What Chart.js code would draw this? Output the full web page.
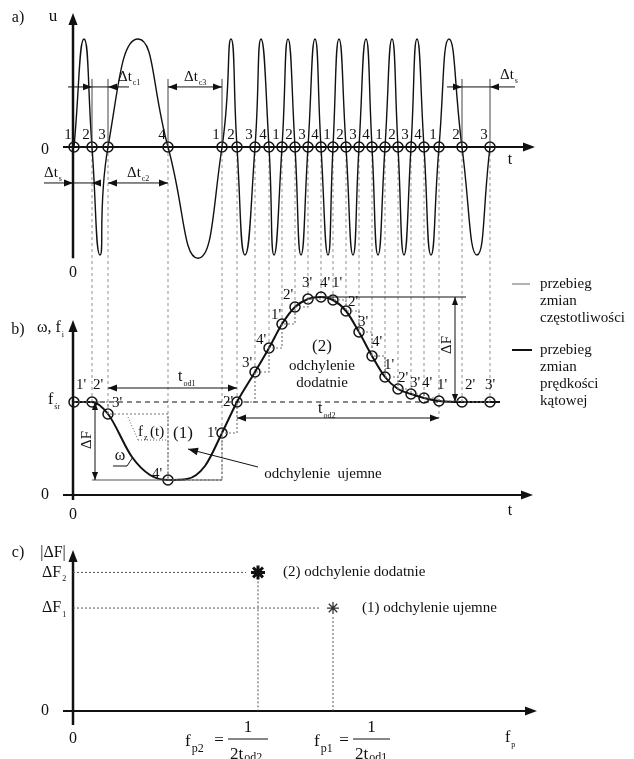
<!DOCTYPE html>
<html>
<head>
<meta charset="utf-8">
<script src="https://cdn.jsdelivr.net/npm/chart.js@4.4.0/dist/chart.umd.min.js"></script>
<style>
  html, body { margin: 0; background: #fff; }
  canvas { display: block; }
</style>
</head>
<body>
<canvas id="fig" width="634" height="759"></canvas>
<script>
// values (time in arbitrary units, omega in arbitrary units)
const zeroCrossingT = [0.1, 1.9, 3.5, 9.5, 14.9, 16.4, 18.2, 19.6, 20.9, 22.2, 23.5, 24.8, 26.0, 27.3, 28.6, 29.9, 31.2, 32.5, 33.8, 35.1, 36.6, 38.9, 41.7];
const crossingLabels = ['1','2','3','4','1','2','3','4','1','2','3','4','1','2','3','4','1','2','3','4','1','2','3'];

// a) signal u(t): zero crossings and extremes
const signalT = [0.1, 1.1, 1.9, 2.7, 3.5, 6.5, 9.5, 12.5, 14.9, 15.8, 16.4, 17.2, 18.2, 18.8, 19.6, 20.1, 20.9, 21.5, 22.2, 22.8, 23.5, 24.2, 24.8, 25.5, 26.0, 26.6, 27.3, 28.0, 28.6, 29.3, 29.9, 30.5, 31.2, 31.9, 32.5, 33.1, 33.8, 34.4, 35.1, 35.8, 36.6, 37.6, 38.9, 40.4, 41.7];
const signalU = [0, 1, 0, -1, 0, 1, 0, -1.03, 0, 1, 0, -1, 0, 1, 0, -1, 0, 1, 0, -1, 0, 1, 0, -1, 0, 1, 0, -1, 0, 1, 0, -1, 0, 1, 0, -1, 0, 1, 0, -1, 0, 1, 0, -1, 0];

// b) omega / frequency at the marked points
const omegaAtCrossing = [9.3, 9.3, 8.1, 1.5, 6.2, 9.3, 12.3, 14.7, 17.1, 18.8, 19.6, 19.8, 19.5, 18.4, 16.3, 13.9, 11.8, 10.6, 10.1, 9.7, 9.4, 9.3, 9.3];
const omegaCurveT = [0.1, 1.9, 3.5, 5.9, 7.7, 9.5, 11.4, 13.2, 14.9, 16.4, 18.2, 19.6, 20.9, 22.2, 23.5, 24.8, 26.0, 27.3, 28.6, 29.9, 31.2, 32.5, 33.8, 35.1, 36.6, 38.9, 41.7, 42.7];
const omegaCurveW = [9.3, 9.3, 8.1, 3.8, 2.0, 1.5, 1.6, 2.9, 6.2, 9.3, 12.3, 14.7, 17.1, 18.8, 19.6, 19.8, 19.5, 18.4, 16.3, 13.9, 11.8, 10.6, 10.1, 9.7, 9.4, 9.3, 9.3, 9.3];
const omegaMean = 9.3;

// c) deviation amplitude vs frequency
const deviationNames = ['(1) odchylenie ujemne', '(2) odchylenie dodatnie'];
const deviationF = [2.60, 1.85];
const deviationDF = [7.8, 10.5];

// label offsets for the primed points (layout only)
const primeOffset = [[7,-17],[6,-17],[9,-11],[-11,-6],[-10,0],[-9,0],[-8,-9],[-8,-8],[-6,-9],[-7,-12],[-1,-16],[4,-14],[4,-17],[7,-9],[4,-10],[5,-14],[4,-12],[5,-11],[4,-11],[3,-15],[3,-16],[8,-17],[0,-17]];

const FONT = '"Liberation Serif", "DejaVu Serif", serif';
const INK = '#111';

function seg(ctx, x1, y1, x2, y2, o = {}) {
  ctx.save();
  ctx.strokeStyle = o.color || INK;
  ctx.lineWidth = o.width || 1;
  ctx.setLineDash(o.dash || []);
  ctx.beginPath();
  ctx.moveTo(x1, y1);
  ctx.lineTo(x2, y2);
  ctx.stroke();
  ctx.restore();
}

function head(ctx, x, y, angle, size = 9) {
  ctx.save();
  ctx.translate(x, y);
  ctx.rotate(angle);
  ctx.fillStyle = INK;
  ctx.beginPath();
  ctx.moveTo(0, 0);
  ctx.lineTo(-size, -size * 0.38);
  ctx.lineTo(-size, size * 0.38);
  ctx.closePath();
  ctx.fill();
  ctx.restore();
}

function txt(ctx, s, x, y, size = 15, align = 'center') {
  ctx.font = size + 'px ' + FONT;
  ctx.fillStyle = INK;
  ctx.textAlign = align;
  ctx.textBaseline = 'middle';
  ctx.fillText(s, x, y);
  return ctx.measureText(s).width;
}

function sub(ctx, base, low, x, y, size = 15, lowSize = 8, drop = 0.42) {
  const w = txt(ctx, base, x, y, size, 'left');
  txt(ctx, low, x + w + 1, y + size * drop, lowSize, 'left');
}

const figure = {
  id: 'figure',
  beforeDatasetsDraw(chart) {
    const { ctx } = chart;
    const s = chart.scales;
    const T = v => s.x.getPixelForValue(v);
    const U = v => s.ya.getPixelForValue(v);
    const W = v => s.yb.getPixelForValue(v);
    // dashed guides from the zero crossings of u down to panel b
    zeroCrossingT.forEach((t, i) => {
      if (i === 0) return;
      let w = omegaAtCrossing[i];
      if (i === 4) w = omegaAtCrossing[3];
      if (i === 5 || i === 20) w = 7.7;
      seg(ctx, T(t), U(0), T(t), W(w), { dash: [3, 3], color: '#777', width: 0.8 });
    });
    // mean frequency line
    seg(ctx, T(0), W(omegaMean), T(zeroCrossingT[20]), W(omegaMean), { dash: [5, 4], width: 1 });
  },
  afterDatasetsDraw(chart) {
    const { ctx } = chart;
    const s = chart.scales;
    const T = v => s.x.getPixelForValue(v);
    const U = v => s.ya.getPixelForValue(v);
    const W = v => s.yb.getPixelForValue(v);
    const F = v => s.xc.getPixelForValue(v);
    const D = v => s.yc.getPixelForValue(v);
    const ct = zeroCrossingT;
    const L = Math.PI, R = 0, UP = -Math.PI / 2, DN = Math.PI / 2;

    // ---------- panel a ----------
    seg(ctx, T(0), U(-1.03), T(0), U(1.16), { width: 2.5 });
    head(ctx, T(0), U(1.24), UP, 12);
    seg(ctx, T(-1), U(0), T(45.4), U(0), { width: 2 });
    head(ctx, T(46.2), U(0), R, 12);
    txt(ctx, 'a)', 18, 18, 16);
    txt(ctx, 'u', 53, 17, 17);
    txt(ctx, '0', 45, U(0) + 3, 16);
    txt(ctx, '0', T(0), U(-1.03) + 15, 16);
    txt(ctx, 't', 510, U(0) + 13, 16);
    crossingLabels.forEach((l, i) => txt(ctx, l, T(ct[i]) - 6, U(0) - 12, 15));

    const up = 0.556, low = -0.333;
    [1, 2, 3, 4, 21, 22].forEach(i => seg(ctx, T(ct[i]), U(0), T(ct[i]), U(0.63), { color: '#444' }));
    // Δt c1
    seg(ctx, T(-0.5), U(up), T(5.6), U(up));
    head(ctx, T(ct[1]), U(up), R); head(ctx, T(ct[2]), U(up), L);
    sub(ctx, 'Δt', 'c1', T(ct[2]) + 10, U(up) - 10);
    // Δt c3
    seg(ctx, T(ct[3]), U(up), T(ct[4]), U(up));
    head(ctx, T(ct[3]), U(up), L); head(ctx, T(ct[4]), U(up), R);
    sub(ctx, 'Δt', 'c3', T(ct[3]) + 16, U(up) - 10);
    // Δt s (right)
    seg(ctx, T(37.4), U(up), T(44.2), U(up));
    head(ctx, T(ct[21]), U(up), R); head(ctx, T(ct[22]), U(up), L);
    sub(ctx, 'Δt', 's', T(ct[22]) + 10, U(up) - 12);
    // Δt s (left, lower)
    seg(ctx, T(-2.9), U(low), T(2.7), U(low));
    head(ctx, T(0), U(low), R); head(ctx, T(ct[1]), U(low), L);
    sub(ctx, 'Δt', 's', T(0) - 29, U(low) - 10);
    // Δt c2
    seg(ctx, T(ct[2]), U(low), T(ct[3]), U(low));
    head(ctx, T(ct[2]), U(low), L); head(ctx, T(ct[3]), U(low), R);
    sub(ctx, 'Δt', 'c2', T(ct[2]) + 19, U(low) - 10);

    // ---------- panel b ----------
    seg(ctx, T(0), W(-0.5), T(0), W(16.9), { width: 2.5 });
    head(ctx, T(0), W(17.5), UP, 12);
    seg(ctx, T(-1), W(0), T(45.2), W(0), { width: 2 });
    head(ctx, T(46.0), W(0), R, 12);
    txt(ctx, 'b)', 18, 330, 16);
    sub(ctx, 'ω, f', 'i', 37, 328, 16);
    sub(ctx, 'f', 'śr', 48, W(omegaMean) - 2, 16);
    txt(ctx, '0', 45, W(0), 16);
    txt(ctx, '0', T(0), W(0) + 20, 16);
    txt(ctx, 't', 510, W(0) + 16, 16);

    ct.forEach((t, i) => {
      const [dx, dy] = primeOffset[i];
      txt(ctx, crossingLabels[i] + "'", T(t) + dx, W(omegaAtCrossing[i]) + dy, 15);
    });

    // t od1
    const wOd1 = 10.7, wOd2 = 7.7;
    seg(ctx, T(ct[2]), W(wOd1), T(ct[5]), W(wOd1));
    head(ctx, T(ct[2]), W(wOd1), L); head(ctx, T(ct[5]), W(wOd1), R);
    sub(ctx, 't', 'od1', T(10.5), W(wOd1) - 11, 16);
    // t od2
    seg(ctx, T(ct[5]), W(wOd2), T(ct[20]), W(wOd2));
    head(ctx, T(ct[5]), W(wOd2), L); head(ctx, T(ct[20]), W(wOd2), R);
    sub(ctx, 't', 'od2', T(24.5), W(wOd2) - 9, 16);

    // ΔF (1)
    const wMin = omegaAtCrossing[3], wMax = omegaAtCrossing[11];
    seg(ctx, T(ct[1]), W(wMin), T(ct[4]), W(wMin), { color: '#555', width: 1.2 });
    seg(ctx, T(2.2), W(omegaMean), T(2.2), W(wMin));
    head(ctx, T(2.2), W(omegaMean), UP, 8); head(ctx, T(2.2), W(wMin), DN, 8);
    // ΔF (2)
    seg(ctx, T(ct[11]), W(wMax), T(39.3), W(wMax));
    seg(ctx, T(38.2), W(wMax), T(38.2), W(omegaMean));
    head(ctx, T(38.2), W(wMax), UP, 8); head(ctx, T(38.2), W(omegaMean), DN, 8);
    [[T(1.4), W(5.5)], [T(37.4), W(15.0)]].forEach(([x, y]) => {
      ctx.save(); ctx.translate(x, y); ctx.rotate(-Math.PI / 2);
      txt(ctx, 'ΔF', 0, 0, 15); ctx.restore();
    });

    txt(ctx, '(2)', T(24.9), W(14.8), 17);
    txt(ctx, 'odchylenie', T(24.9), W(12.9), 15);
    txt(ctx, 'dodatnie', T(24.9), W(11.2), 15);
    txt(ctx, '(1)', T(11.0), W(6.1), 17);
    txt(ctx, 'odchylenie  ujemne', T(25.0), W(2.1), 15);
    const ax1 = T(18.5), ay1 = W(2.8), ax2 = T(11.5), ay2 = W(4.6);
    seg(ctx, ax1, ay1, ax2, ay2);
    head(ctx, ax2, ay2, Math.atan2(ay2 - ay1, ax2 - ax1), 10);

    // f(t) and ω callouts
    seg(ctx, T(5.5), W(7.8), T(6.5), W(5.5), { dash: [1, 2], color: '#666' });
    seg(ctx, T(6.5), W(5.5), T(9.3), W(5.5), { dash: [1, 2], color: '#666' });
    sub(ctx, 'f', 'z', T(6.5), W(6.3), 15);
    txt(ctx, '(t)', T(7.7), W(6.3), 15, 'left');
    txt(ctx, 'ω', T(4.7), W(3.9), 16);
    seg(ctx, T(4.0), W(2.9), T(5.4), W(2.9), { width: 1 });
    seg(ctx, T(5.4), W(2.9), T(6.0), W(3.8), { width: 1 });

    // legend
    seg(ctx, 512, 284, 530, 284, { color: '#999', width: 1.5 });
    ['przebieg', 'zmian', 'częstotliwości'].forEach((l, i) => txt(ctx, l, 540, 284 + i * 17, 15, 'left'));
    seg(ctx, 512, 350, 532, 350, { width: 2 });
    ['przebieg', 'zmian', 'prędkości', 'kątowej'].forEach((l, i) => txt(ctx, l, 540, 350 + i * 17, 15, 'left'));

    // ---------- panel c ----------
    seg(ctx, F(0), D(-1.06), F(0), D(11.6), { width: 2.5 });
    head(ctx, F(0), D(12.2), UP, 12);
    seg(ctx, F(-0.1), D(0), F(4.58), D(0), { width: 2 });
    head(ctx, F(4.64), D(0), R, 12);
    txt(ctx, 'c)', 18, 553, 16);
    txt(ctx, '|ΔF|', 53, 553, 16);
    sub(ctx, 'ΔF', '2', 42, D(deviationDF[1]), 16);
    sub(ctx, 'ΔF', '1', 42, D(deviationDF[0]), 16);
    txt(ctx, '0', 45, D(0), 16);
    txt(ctx, '0', F(0), D(0) + 28, 16);
    sub(ctx, 'f', 'p', 505, D(0) + 27, 16);
    deviationF.forEach((f, i) => {
      const df = deviationDF[i];
      seg(ctx, F(0), D(df), F(f) - 12, D(df), { dash: [2, 2], color: '#555' });
      seg(ctx, F(f), D(df) + 9, F(f), D(0), { dash: [2, 2], color: '#555' });
      txt(ctx, deviationNames[i], F(f) + (i === 0 ? 29 : 25), D(df), 15, 'left');
    });

    // formulas for the deviation frequencies
    [[185, 228, 268, 'p2', 'od2'], [314, 353, 390, 'p1', 'od1']].forEach(([fx, b1, b2, p, od]) => {
      const y = D(0) + 31;
      sub(ctx, 'f', p, fx, y, 17, 12);
      txt(ctx, '=', b1 - 9, y - 1, 17);
      seg(ctx, b1, y - 3, b2, y - 3, { width: 1.2 });
      txt(ctx, '1', (b1 + b2) / 2, y - 14, 17);
      sub(ctx, '2t', od, b1 + 2, y + 13, 17, 12, 0.15);
    });
  }
};

new Chart(document.getElementById('fig'), {
  type: 'scatter',
  data: {
    datasets: [
      {
        label: 'u',
        data: signalT.map((t, i) => ({ x: t, y: signalU[i] })),
        xAxisID: 'x', yAxisID: 'ya',
        showLine: true, tension: 0.55,
        borderColor: INK, borderWidth: 1.4, pointRadius: 0, clip: false
      },
      {
        label: 'crossings',
        data: zeroCrossingT.map(t => ({ x: t, y: 0 })),
        xAxisID: 'x', yAxisID: 'ya',
        pointRadius: 5, pointBorderWidth: 1.5, pointBorderColor: INK,
        pointBackgroundColor: 'rgba(0,0,0,0)', clip: false
      },
      {
        label: 'f(t)',
        data: zeroCrossingT.map((t, i) => ({ x: t, y: omegaAtCrossing[i] })),
        xAxisID: 'x', yAxisID: 'yb',
        showLine: true, stepped: 'before',
        borderColor: '#777', borderWidth: 1.2, borderDash: [2, 2], pointRadius: 0, clip: false
      },
      {
        label: 'omega',
        data: omegaCurveT.map((t, i) => ({ x: t, y: omegaCurveW[i] })),
        xAxisID: 'x', yAxisID: 'yb',
        showLine: true, cubicInterpolationMode: 'monotone',
        borderColor: INK, borderWidth: 2, pointRadius: 0, clip: false
      },
      {
        label: 'omega points',
        data: zeroCrossingT.map((t, i) => ({ x: t, y: omegaAtCrossing[i] })),
        xAxisID: 'x', yAxisID: 'yb',
        pointRadius: 5, pointBorderWidth: 1.5, pointBorderColor: INK,
        pointBackgroundColor: 'rgba(0,0,0,0)', clip: false
      },
      {
        label: 'deviation 2',
        data: [{ x: deviationF[1], y: deviationDF[1] }],
        xAxisID: 'xc', yAxisID: 'yc',
        pointStyle: 'star', pointRadius: 7, pointBorderWidth: 3, pointBorderColor: INK, clip: false
      },
      {
        label: 'deviation 1',
        data: [{ x: deviationF[0], y: deviationDF[0] }],
        xAxisID: 'xc', yAxisID: 'yc',
        pointStyle: 'star', pointRadius: 6, pointBorderWidth: 1.3, pointBorderColor: '#333', clip: false
      }
    ]
  },
  options: {
    responsive: false,
    animation: false,
    devicePixelRatio: 1,
    events: [],
    layout: { autoPadding: false, padding: { left: 73, right: 99, top: 0, bottom: 0 } },
    plugins: { legend: { display: false }, tooltip: { enabled: false } },
    scales: {
      x: { type: 'linear', min: 0, max: 46.2, display: false },
      xc: { type: 'linear', axis: 'x', min: 0, max: 4.62, display: false },
      ya: { type: 'linear', axis: 'y', min: -5.6667, max: 1.3611, display: false },
      yb: { type: 'linear', axis: 'y', min: -26.4, max: 49.5, display: false },
      yc: { type: 'linear', axis: 'y', min: -3.6364, max: 53.8636, display: false }
    }
  },
  plugins: [figure]
});
</script>
</body>
</html>
